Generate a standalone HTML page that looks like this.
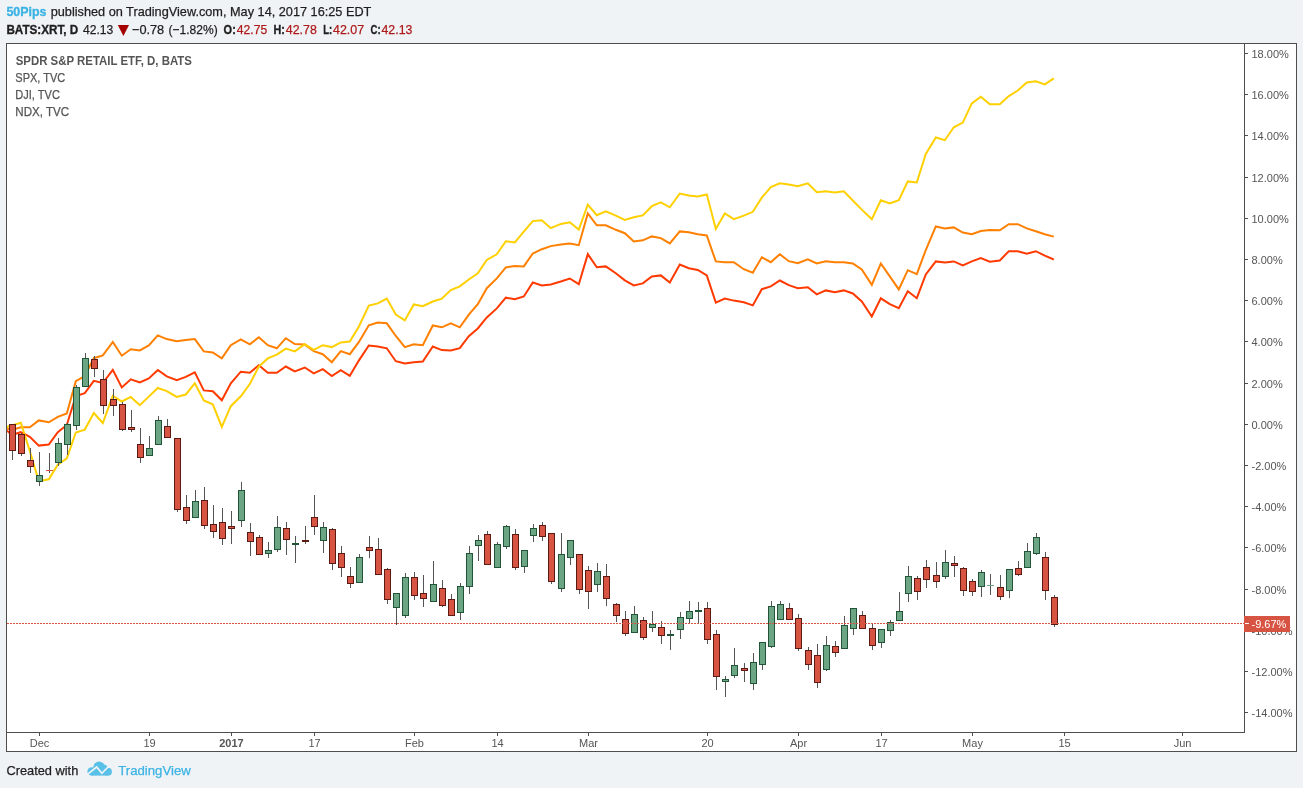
<!DOCTYPE html><html><head><meta charset="utf-8"><style>
html,body{margin:0;padding:0;width:1303px;height:788px;overflow:hidden;background:#f0f3f6;}
svg{position:absolute;left:0;top:0;display:block;will-change:transform;}
text{font-family:"Liberation Sans",sans-serif;}
</style></head><body>
<svg width="1303" height="788" viewBox="0 0 1303 788">
<rect x="6" y="43" width="1291" height="709" fill="#ffffff"/>
<defs><clipPath id="pane"><rect x="7" y="44" width="1237" height="688"/></clipPath></defs>
<g clip-path="url(#pane)">
<polyline points="2.80,427.00 11.80,430.00 20.80,427.20 29.80,427.20 38.80,420.40 48.80,422.30 57.80,416.80 66.80,413.40 75.80,381.20 84.80,376.00 93.80,358.20 102.80,355.40 112.80,341.90 121.80,355.70 130.80,349.20 139.80,350.40 148.80,345.50 157.80,335.40 166.80,339.10 176.80,341.20 185.80,340.10 194.80,339.10 203.80,351.40 212.80,352.40 221.80,358.40 230.80,345.20 240.80,339.30 249.80,344.40 258.80,337.20 267.80,345.20 276.80,348.30 285.80,338.20 294.80,344.00 304.80,344.60 313.80,351.10 322.80,354.20 331.80,362.20 340.80,351.10 349.80,354.20 358.80,342.20 368.80,325.30 377.80,322.50 386.80,323.30 395.80,336.00 404.80,347.10 413.80,344.20 422.80,345.20 432.80,325.50 441.80,327.30 450.80,323.40 459.80,327.30 468.80,314.60 477.80,304.20 486.80,288.20 496.80,278.40 505.80,267.40 514.80,266.10 523.80,266.40 532.80,253.50 541.80,249.20 550.80,246.10 560.80,244.50 569.80,243.40 578.80,245.20 587.80,213.50 596.80,225.30 605.80,225.30 615.80,229.80 624.80,233.20 633.80,241.50 642.80,240.30 651.80,236.40 660.80,238.10 669.80,243.40 679.80,231.40 688.80,232.30 697.80,234.20 706.80,235.40 715.80,261.40 724.80,262.20 733.80,262.20 743.80,269.20 752.80,272.80 761.80,257.30 770.80,262.20 779.80,254.20 788.80,261.20 797.80,263.30 807.80,259.30 816.80,263.50 825.80,261.20 834.80,262.20 843.80,262.20 852.80,263.50 861.80,269.50 871.80,284.80 880.80,263.50 889.80,276.30 898.80,289.40 907.80,270.20 916.80,274.10 925.80,250.00 935.80,226.40 944.80,228.40 953.80,227.40 962.80,232.50 971.80,234.30 980.80,231.10 989.80,230.00 999.80,230.30 1008.80,224.20 1017.80,224.20 1026.80,228.40 1035.80,231.30 1044.80,234.30 1053.80,236.60" fill="none" stroke="#ff8000" stroke-width="2" stroke-linejoin="miter" stroke-miterlimit="3"/>
<polyline points="2.80,427.00 11.80,435.00 20.80,432.20 29.80,436.80 38.80,445.60 48.80,444.50 57.80,432.20 66.80,425.00 75.80,396.00 84.80,393.20 93.80,380.90 102.80,383.00 112.80,369.80 121.80,387.40 130.80,379.30 139.80,382.40 148.80,378.50 157.80,370.00 166.80,376.40 176.80,380.10 185.80,376.90 194.80,372.30 203.80,390.40 212.80,391.30 221.80,400.30 230.80,383.40 240.80,371.70 249.80,372.70 258.80,365.30 267.80,372.70 276.80,372.70 285.80,366.50 294.80,371.40 304.80,367.50 313.80,373.30 322.80,369.20 331.80,376.00 340.80,370.20 349.80,375.80 358.80,360.60 368.80,345.50 377.80,346.50 386.80,348.30 395.80,361.20 404.80,363.40 413.80,362.20 422.80,361.50 432.80,346.50 441.80,350.10 450.80,350.50 459.80,348.20 468.80,336.20 477.80,328.50 486.80,317.40 496.80,308.40 505.80,297.70 514.80,299.30 523.80,296.50 532.80,282.50 541.80,285.50 550.80,284.40 560.80,281.50 569.80,278.50 578.80,284.20 587.80,254.10 596.80,267.20 605.80,266.40 615.80,273.30 624.80,280.40 633.80,285.40 642.80,283.40 651.80,276.40 660.80,275.40 669.80,282.50 679.80,264.50 688.80,268.20 697.80,270.00 706.80,275.50 715.80,302.60 724.80,298.50 733.80,300.60 743.80,302.30 752.80,305.40 761.80,289.20 770.80,286.40 779.80,280.50 788.80,285.20 797.80,288.20 807.80,287.30 816.80,294.30 825.80,290.40 834.80,292.20 843.80,290.40 852.80,293.50 861.80,301.50 871.80,316.50 880.80,298.30 889.80,304.20 898.80,308.10 907.80,291.20 916.80,298.20 925.80,274.50 935.80,261.40 944.80,262.40 953.80,261.40 962.80,265.30 971.80,261.40 980.80,258.00 989.80,261.70 999.80,260.50 1008.80,251.20 1017.80,251.20 1026.80,253.70 1035.80,251.20 1044.80,255.60 1053.80,259.50" fill="none" stroke="#ff3a00" stroke-width="2" stroke-linejoin="miter" stroke-miterlimit="3"/>
<polyline points="2.80,428.00 11.80,425.50 20.80,422.80 29.80,451.00 38.80,481.20 48.80,479.30 57.80,464.70 66.80,458.40 75.80,432.50 84.80,429.60 93.80,413.00 102.80,423.00 112.80,395.70 121.80,401.50 130.80,396.90 139.80,405.20 148.80,396.60 157.80,388.00 166.80,391.10 176.80,396.90 185.80,394.50 194.80,383.40 203.80,400.40 212.80,404.30 221.80,426.80 230.80,406.20 240.80,396.30 249.80,384.00 258.80,366.50 267.80,358.40 276.80,354.70 285.80,348.60 294.80,351.40 304.80,344.30 313.80,349.90 322.80,345.20 331.80,347.10 340.80,342.40 349.80,341.50 358.80,326.80 368.80,305.60 377.80,303.40 386.80,298.50 395.80,314.50 404.80,320.40 413.80,304.40 422.80,306.20 432.80,301.50 441.80,298.70 450.80,290.00 459.80,286.40 468.80,279.50 477.80,273.40 486.80,260.00 496.80,254.30 505.80,241.20 514.80,242.40 523.80,231.70 532.80,221.10 541.80,220.20 550.80,228.20 560.80,223.90 569.80,222.30 578.80,229.50 587.80,204.60 596.80,215.20 605.80,211.40 615.80,215.70 624.80,220.00 633.80,217.20 642.80,215.40 651.80,206.20 660.80,202.40 669.80,207.30 679.80,193.50 688.80,195.40 697.80,196.40 706.80,194.40 715.80,229.00 724.80,213.50 733.80,219.10 743.80,215.60 752.80,211.80 761.80,197.70 770.80,187.20 779.80,183.30 788.80,184.50 797.80,186.20 807.80,183.30 816.80,192.20 825.80,191.30 834.80,192.40 843.80,191.30 852.80,200.50 861.80,209.60 871.80,219.20 880.80,200.20 889.80,203.40 898.80,200.20 907.80,181.40 916.80,182.50 925.80,153.90 935.80,137.50 944.80,140.20 953.80,127.30 962.80,122.60 971.80,103.40 980.80,96.70 989.80,104.20 999.80,104.20 1008.80,96.10 1017.80,90.50 1026.80,82.40 1035.80,81.30 1044.80,84.40 1053.80,78.30" fill="none" stroke="#ffd000" stroke-width="2" stroke-linejoin="miter" stroke-miterlimit="3"/>
<rect x="12" y="424" width="1" height="36" fill="#555555"/>
<rect x="9" y="424" width="7" height="27" fill="#5b1a13"/>
<rect x="10" y="425" width="5" height="25" fill="#d75442"/>
<rect x="21" y="433" width="1" height="23" fill="#555555"/>
<rect x="18" y="434" width="7" height="20" fill="#5b1a13"/>
<rect x="19" y="435" width="5" height="18" fill="#d75442"/>
<rect x="30" y="448" width="1" height="25" fill="#555555"/>
<rect x="27" y="460" width="7" height="7" fill="#5b1a13"/>
<rect x="28" y="461" width="5" height="5" fill="#d75442"/>
<rect x="39" y="452" width="1" height="34" fill="#555555"/>
<rect x="36" y="475" width="7" height="7" fill="#225437"/>
<rect x="37" y="476" width="5" height="5" fill="#6ba583"/>
<rect x="49" y="453" width="1" height="20" fill="#555555"/>
<rect x="46" y="470" width="7" height="1" fill="#d75442"/>
<rect x="58" y="438" width="1" height="28" fill="#555555"/>
<rect x="55" y="443" width="7" height="20" fill="#225437"/>
<rect x="56" y="444" width="5" height="18" fill="#6ba583"/>
<rect x="67" y="423" width="1" height="32" fill="#555555"/>
<rect x="64" y="424" width="7" height="21" fill="#225437"/>
<rect x="65" y="425" width="5" height="19" fill="#6ba583"/>
<rect x="76" y="385" width="1" height="45" fill="#555555"/>
<rect x="73" y="387" width="7" height="39" fill="#225437"/>
<rect x="74" y="388" width="5" height="37" fill="#6ba583"/>
<rect x="85" y="353" width="1" height="34" fill="#555555"/>
<rect x="82" y="358" width="7" height="29" fill="#225437"/>
<rect x="83" y="359" width="5" height="27" fill="#6ba583"/>
<rect x="94" y="356" width="1" height="21" fill="#555555"/>
<rect x="91" y="359" width="7" height="10" fill="#5b1a13"/>
<rect x="92" y="360" width="5" height="8" fill="#d75442"/>
<rect x="103" y="370" width="1" height="44" fill="#555555"/>
<rect x="100" y="379" width="7" height="27" fill="#5b1a13"/>
<rect x="101" y="380" width="5" height="25" fill="#d75442"/>
<rect x="113" y="389" width="1" height="27" fill="#555555"/>
<rect x="110" y="399" width="7" height="7" fill="#5b1a13"/>
<rect x="111" y="400" width="5" height="5" fill="#d75442"/>
<rect x="122" y="402" width="1" height="29" fill="#555555"/>
<rect x="119" y="404" width="7" height="26" fill="#5b1a13"/>
<rect x="120" y="405" width="5" height="24" fill="#d75442"/>
<rect x="131" y="410" width="1" height="22" fill="#555555"/>
<rect x="128" y="427" width="7" height="3" fill="#5b1a13"/>
<rect x="129" y="428" width="5" height="1" fill="#d75442"/>
<rect x="140" y="428" width="1" height="35" fill="#555555"/>
<rect x="137" y="444" width="7" height="14" fill="#5b1a13"/>
<rect x="138" y="445" width="5" height="12" fill="#d75442"/>
<rect x="149" y="436" width="1" height="20" fill="#555555"/>
<rect x="146" y="448" width="7" height="8" fill="#225437"/>
<rect x="147" y="449" width="5" height="6" fill="#6ba583"/>
<rect x="158" y="416" width="1" height="29" fill="#555555"/>
<rect x="155" y="420" width="7" height="25" fill="#225437"/>
<rect x="156" y="421" width="5" height="23" fill="#6ba583"/>
<rect x="167" y="419" width="1" height="19" fill="#555555"/>
<rect x="164" y="426" width="7" height="12" fill="#5b1a13"/>
<rect x="165" y="427" width="5" height="10" fill="#d75442"/>
<rect x="177" y="438" width="1" height="74" fill="#555555"/>
<rect x="174" y="438" width="7" height="72" fill="#5b1a13"/>
<rect x="175" y="439" width="5" height="70" fill="#d75442"/>
<rect x="186" y="495" width="1" height="29" fill="#555555"/>
<rect x="183" y="507" width="7" height="14" fill="#5b1a13"/>
<rect x="184" y="508" width="5" height="12" fill="#d75442"/>
<rect x="195" y="490" width="1" height="28" fill="#555555"/>
<rect x="192" y="501" width="7" height="17" fill="#225437"/>
<rect x="193" y="502" width="5" height="15" fill="#6ba583"/>
<rect x="204" y="487" width="1" height="42" fill="#555555"/>
<rect x="201" y="500" width="7" height="26" fill="#5b1a13"/>
<rect x="202" y="501" width="5" height="24" fill="#d75442"/>
<rect x="213" y="505" width="1" height="33" fill="#555555"/>
<rect x="210" y="524" width="7" height="8" fill="#5b1a13"/>
<rect x="211" y="525" width="5" height="6" fill="#d75442"/>
<rect x="222" y="508" width="1" height="37" fill="#555555"/>
<rect x="219" y="522" width="7" height="17" fill="#5b1a13"/>
<rect x="220" y="523" width="5" height="15" fill="#d75442"/>
<rect x="231" y="511" width="1" height="33" fill="#555555"/>
<rect x="228" y="526" width="7" height="3" fill="#5b1a13"/>
<rect x="229" y="527" width="5" height="1" fill="#d75442"/>
<rect x="241" y="482" width="1" height="45" fill="#555555"/>
<rect x="238" y="490" width="7" height="31" fill="#225437"/>
<rect x="239" y="491" width="5" height="29" fill="#6ba583"/>
<rect x="250" y="523" width="1" height="33" fill="#555555"/>
<rect x="247" y="532" width="7" height="10" fill="#5b1a13"/>
<rect x="248" y="533" width="5" height="8" fill="#d75442"/>
<rect x="259" y="535" width="1" height="20" fill="#555555"/>
<rect x="256" y="537" width="7" height="18" fill="#5b1a13"/>
<rect x="257" y="538" width="5" height="16" fill="#d75442"/>
<rect x="268" y="542" width="1" height="16" fill="#555555"/>
<rect x="265" y="550" width="7" height="4" fill="#225437"/>
<rect x="266" y="551" width="5" height="2" fill="#6ba583"/>
<rect x="277" y="516" width="1" height="36" fill="#555555"/>
<rect x="274" y="527" width="7" height="23" fill="#225437"/>
<rect x="275" y="528" width="5" height="21" fill="#6ba583"/>
<rect x="286" y="522" width="1" height="33" fill="#555555"/>
<rect x="283" y="528" width="7" height="12" fill="#5b1a13"/>
<rect x="284" y="529" width="5" height="10" fill="#d75442"/>
<rect x="295" y="536" width="1" height="27" fill="#555555"/>
<rect x="292" y="543" width="7" height="2" fill="#225437"/>
<rect x="305" y="526" width="1" height="18" fill="#555555"/>
<rect x="302" y="540" width="7" height="2" fill="#5b1a13"/>
<rect x="314" y="495" width="1" height="40" fill="#555555"/>
<rect x="311" y="517" width="7" height="10" fill="#5b1a13"/>
<rect x="312" y="518" width="5" height="8" fill="#d75442"/>
<rect x="323" y="522" width="1" height="31" fill="#555555"/>
<rect x="320" y="527" width="7" height="14" fill="#225437"/>
<rect x="321" y="528" width="5" height="12" fill="#6ba583"/>
<rect x="332" y="528" width="1" height="42" fill="#555555"/>
<rect x="329" y="529" width="7" height="35" fill="#5b1a13"/>
<rect x="330" y="530" width="5" height="33" fill="#d75442"/>
<rect x="341" y="546" width="1" height="31" fill="#555555"/>
<rect x="338" y="553" width="7" height="15" fill="#5b1a13"/>
<rect x="339" y="554" width="5" height="13" fill="#d75442"/>
<rect x="350" y="567" width="1" height="21" fill="#555555"/>
<rect x="347" y="576" width="7" height="8" fill="#5b1a13"/>
<rect x="348" y="577" width="5" height="6" fill="#d75442"/>
<rect x="359" y="554" width="1" height="29" fill="#555555"/>
<rect x="356" y="557" width="7" height="26" fill="#225437"/>
<rect x="357" y="558" width="5" height="24" fill="#6ba583"/>
<rect x="369" y="536" width="1" height="22" fill="#555555"/>
<rect x="366" y="547" width="7" height="4" fill="#5b1a13"/>
<rect x="367" y="548" width="5" height="2" fill="#d75442"/>
<rect x="378" y="538" width="1" height="37" fill="#555555"/>
<rect x="375" y="549" width="7" height="26" fill="#5b1a13"/>
<rect x="376" y="550" width="5" height="24" fill="#d75442"/>
<rect x="387" y="568" width="1" height="36" fill="#555555"/>
<rect x="384" y="569" width="7" height="31" fill="#5b1a13"/>
<rect x="385" y="570" width="5" height="29" fill="#d75442"/>
<rect x="396" y="593" width="1" height="32" fill="#555555"/>
<rect x="393" y="593" width="7" height="15" fill="#225437"/>
<rect x="394" y="594" width="5" height="13" fill="#6ba583"/>
<rect x="405" y="573" width="1" height="45" fill="#555555"/>
<rect x="402" y="577" width="7" height="39" fill="#225437"/>
<rect x="403" y="578" width="5" height="37" fill="#6ba583"/>
<rect x="414" y="572" width="1" height="28" fill="#555555"/>
<rect x="411" y="577" width="7" height="19" fill="#5b1a13"/>
<rect x="412" y="578" width="5" height="17" fill="#d75442"/>
<rect x="423" y="575" width="1" height="32" fill="#555555"/>
<rect x="420" y="593" width="7" height="6" fill="#5b1a13"/>
<rect x="421" y="594" width="5" height="4" fill="#d75442"/>
<rect x="433" y="561" width="1" height="41" fill="#555555"/>
<rect x="430" y="584" width="7" height="18" fill="#225437"/>
<rect x="431" y="585" width="5" height="16" fill="#6ba583"/>
<rect x="442" y="580" width="1" height="27" fill="#555555"/>
<rect x="439" y="588" width="7" height="18" fill="#5b1a13"/>
<rect x="440" y="589" width="5" height="16" fill="#d75442"/>
<rect x="451" y="594" width="1" height="22" fill="#555555"/>
<rect x="448" y="599" width="7" height="17" fill="#5b1a13"/>
<rect x="449" y="600" width="5" height="15" fill="#d75442"/>
<rect x="460" y="583" width="1" height="37" fill="#555555"/>
<rect x="457" y="586" width="7" height="27" fill="#225437"/>
<rect x="458" y="587" width="5" height="25" fill="#6ba583"/>
<rect x="469" y="546" width="1" height="48" fill="#555555"/>
<rect x="466" y="553" width="7" height="34" fill="#225437"/>
<rect x="467" y="554" width="5" height="32" fill="#6ba583"/>
<rect x="478" y="535" width="1" height="26" fill="#555555"/>
<rect x="475" y="540" width="7" height="6" fill="#225437"/>
<rect x="476" y="541" width="5" height="4" fill="#6ba583"/>
<rect x="487" y="531" width="1" height="34" fill="#555555"/>
<rect x="484" y="534" width="7" height="31" fill="#5b1a13"/>
<rect x="485" y="535" width="5" height="29" fill="#d75442"/>
<rect x="497" y="542" width="1" height="26" fill="#555555"/>
<rect x="494" y="544" width="7" height="24" fill="#225437"/>
<rect x="495" y="545" width="5" height="22" fill="#6ba583"/>
<rect x="506" y="525" width="1" height="24" fill="#555555"/>
<rect x="503" y="526" width="7" height="21" fill="#225437"/>
<rect x="504" y="527" width="5" height="19" fill="#6ba583"/>
<rect x="515" y="529" width="1" height="41" fill="#555555"/>
<rect x="512" y="534" width="7" height="34" fill="#5b1a13"/>
<rect x="513" y="535" width="5" height="32" fill="#d75442"/>
<rect x="524" y="550" width="1" height="23" fill="#555555"/>
<rect x="521" y="550" width="7" height="17" fill="#225437"/>
<rect x="522" y="551" width="5" height="15" fill="#6ba583"/>
<rect x="533" y="524" width="1" height="18" fill="#555555"/>
<rect x="530" y="528" width="7" height="8" fill="#225437"/>
<rect x="531" y="529" width="5" height="6" fill="#6ba583"/>
<rect x="542" y="522" width="1" height="19" fill="#555555"/>
<rect x="539" y="525" width="7" height="12" fill="#5b1a13"/>
<rect x="540" y="526" width="5" height="10" fill="#d75442"/>
<rect x="551" y="533" width="1" height="51" fill="#555555"/>
<rect x="548" y="533" width="7" height="49" fill="#5b1a13"/>
<rect x="549" y="534" width="5" height="47" fill="#d75442"/>
<rect x="561" y="533" width="1" height="59" fill="#555555"/>
<rect x="558" y="554" width="7" height="35" fill="#225437"/>
<rect x="559" y="555" width="5" height="33" fill="#6ba583"/>
<rect x="570" y="540" width="1" height="25" fill="#555555"/>
<rect x="567" y="540" width="7" height="18" fill="#225437"/>
<rect x="568" y="541" width="5" height="16" fill="#6ba583"/>
<rect x="579" y="554" width="1" height="40" fill="#555555"/>
<rect x="576" y="554" width="7" height="36" fill="#5b1a13"/>
<rect x="577" y="555" width="5" height="34" fill="#d75442"/>
<rect x="588" y="566" width="1" height="43" fill="#555555"/>
<rect x="585" y="570" width="7" height="22" fill="#5b1a13"/>
<rect x="586" y="571" width="5" height="20" fill="#d75442"/>
<rect x="597" y="563" width="1" height="29" fill="#555555"/>
<rect x="594" y="571" width="7" height="14" fill="#225437"/>
<rect x="595" y="572" width="5" height="12" fill="#6ba583"/>
<rect x="606" y="564" width="1" height="42" fill="#555555"/>
<rect x="603" y="576" width="7" height="23" fill="#5b1a13"/>
<rect x="604" y="577" width="5" height="21" fill="#d75442"/>
<rect x="616" y="603" width="1" height="19" fill="#555555"/>
<rect x="613" y="604" width="7" height="12" fill="#5b1a13"/>
<rect x="614" y="605" width="5" height="10" fill="#d75442"/>
<rect x="625" y="611" width="1" height="25" fill="#555555"/>
<rect x="622" y="619" width="7" height="15" fill="#5b1a13"/>
<rect x="623" y="620" width="5" height="13" fill="#d75442"/>
<rect x="634" y="606" width="1" height="27" fill="#555555"/>
<rect x="631" y="614" width="7" height="19" fill="#225437"/>
<rect x="632" y="615" width="5" height="17" fill="#6ba583"/>
<rect x="643" y="617" width="1" height="23" fill="#555555"/>
<rect x="640" y="620" width="7" height="18" fill="#5b1a13"/>
<rect x="641" y="621" width="5" height="16" fill="#d75442"/>
<rect x="652" y="611" width="1" height="21" fill="#555555"/>
<rect x="649" y="624" width="7" height="4" fill="#225437"/>
<rect x="650" y="625" width="5" height="2" fill="#6ba583"/>
<rect x="661" y="621" width="1" height="23" fill="#555555"/>
<rect x="658" y="627" width="7" height="9" fill="#5b1a13"/>
<rect x="659" y="628" width="5" height="7" fill="#d75442"/>
<rect x="670" y="630" width="1" height="20" fill="#555555"/>
<rect x="667" y="634" width="7" height="2" fill="#225437"/>
<rect x="680" y="612" width="1" height="27" fill="#555555"/>
<rect x="677" y="617" width="7" height="13" fill="#225437"/>
<rect x="678" y="618" width="5" height="11" fill="#6ba583"/>
<rect x="689" y="601" width="1" height="23" fill="#555555"/>
<rect x="686" y="611" width="7" height="8" fill="#225437"/>
<rect x="687" y="612" width="5" height="6" fill="#6ba583"/>
<rect x="698" y="602" width="1" height="22" fill="#555555"/>
<rect x="695" y="610" width="7" height="2" fill="#225437"/>
<rect x="707" y="602" width="1" height="42" fill="#555555"/>
<rect x="704" y="608" width="7" height="32" fill="#5b1a13"/>
<rect x="705" y="609" width="5" height="30" fill="#d75442"/>
<rect x="716" y="630" width="1" height="60" fill="#555555"/>
<rect x="713" y="634" width="7" height="43" fill="#5b1a13"/>
<rect x="714" y="635" width="5" height="41" fill="#d75442"/>
<rect x="725" y="676" width="1" height="21" fill="#555555"/>
<rect x="722" y="679" width="7" height="3" fill="#225437"/>
<rect x="723" y="680" width="5" height="1" fill="#6ba583"/>
<rect x="734" y="648" width="1" height="30" fill="#555555"/>
<rect x="731" y="665" width="7" height="11" fill="#225437"/>
<rect x="732" y="666" width="5" height="9" fill="#6ba583"/>
<rect x="744" y="663" width="1" height="19" fill="#555555"/>
<rect x="741" y="668" width="7" height="3" fill="#5b1a13"/>
<rect x="742" y="669" width="5" height="1" fill="#d75442"/>
<rect x="753" y="653" width="1" height="37" fill="#555555"/>
<rect x="750" y="662" width="7" height="22" fill="#225437"/>
<rect x="751" y="663" width="5" height="20" fill="#6ba583"/>
<rect x="762" y="642" width="1" height="28" fill="#555555"/>
<rect x="759" y="642" width="7" height="23" fill="#225437"/>
<rect x="760" y="643" width="5" height="21" fill="#6ba583"/>
<rect x="771" y="601" width="1" height="47" fill="#555555"/>
<rect x="768" y="606" width="7" height="41" fill="#225437"/>
<rect x="769" y="607" width="5" height="39" fill="#6ba583"/>
<rect x="780" y="601" width="1" height="19" fill="#555555"/>
<rect x="777" y="604" width="7" height="16" fill="#225437"/>
<rect x="778" y="605" width="5" height="14" fill="#6ba583"/>
<rect x="789" y="603" width="1" height="17" fill="#555555"/>
<rect x="786" y="608" width="7" height="12" fill="#5b1a13"/>
<rect x="787" y="609" width="5" height="10" fill="#d75442"/>
<rect x="798" y="614" width="1" height="37" fill="#555555"/>
<rect x="795" y="618" width="7" height="31" fill="#5b1a13"/>
<rect x="796" y="619" width="5" height="29" fill="#d75442"/>
<rect x="808" y="647" width="1" height="23" fill="#555555"/>
<rect x="805" y="650" width="7" height="15" fill="#5b1a13"/>
<rect x="806" y="651" width="5" height="13" fill="#d75442"/>
<rect x="817" y="644" width="1" height="44" fill="#555555"/>
<rect x="814" y="655" width="7" height="28" fill="#5b1a13"/>
<rect x="815" y="656" width="5" height="26" fill="#d75442"/>
<rect x="826" y="636" width="1" height="35" fill="#555555"/>
<rect x="823" y="645" width="7" height="25" fill="#225437"/>
<rect x="824" y="646" width="5" height="23" fill="#6ba583"/>
<rect x="835" y="641" width="1" height="16" fill="#555555"/>
<rect x="832" y="646" width="7" height="7" fill="#5b1a13"/>
<rect x="833" y="647" width="5" height="5" fill="#d75442"/>
<rect x="844" y="616" width="1" height="33" fill="#555555"/>
<rect x="841" y="625" width="7" height="24" fill="#225437"/>
<rect x="842" y="626" width="5" height="22" fill="#6ba583"/>
<rect x="853" y="608" width="1" height="27" fill="#555555"/>
<rect x="850" y="608" width="7" height="21" fill="#225437"/>
<rect x="851" y="609" width="5" height="19" fill="#6ba583"/>
<rect x="862" y="611" width="1" height="18" fill="#555555"/>
<rect x="859" y="615" width="7" height="14" fill="#5b1a13"/>
<rect x="860" y="616" width="5" height="12" fill="#d75442"/>
<rect x="872" y="624" width="1" height="26" fill="#555555"/>
<rect x="869" y="628" width="7" height="18" fill="#5b1a13"/>
<rect x="870" y="629" width="5" height="16" fill="#d75442"/>
<rect x="881" y="629" width="1" height="19" fill="#555555"/>
<rect x="878" y="629" width="7" height="14" fill="#225437"/>
<rect x="879" y="630" width="5" height="12" fill="#6ba583"/>
<rect x="890" y="620" width="1" height="16" fill="#555555"/>
<rect x="887" y="622" width="7" height="9" fill="#225437"/>
<rect x="888" y="623" width="5" height="7" fill="#6ba583"/>
<rect x="899" y="592" width="1" height="29" fill="#555555"/>
<rect x="896" y="611" width="7" height="10" fill="#225437"/>
<rect x="897" y="612" width="5" height="8" fill="#6ba583"/>
<rect x="908" y="566" width="1" height="36" fill="#555555"/>
<rect x="905" y="576" width="7" height="18" fill="#225437"/>
<rect x="906" y="577" width="5" height="16" fill="#6ba583"/>
<rect x="917" y="576" width="1" height="24" fill="#555555"/>
<rect x="914" y="578" width="7" height="14" fill="#5b1a13"/>
<rect x="915" y="579" width="5" height="12" fill="#d75442"/>
<rect x="926" y="560" width="1" height="28" fill="#555555"/>
<rect x="923" y="567" width="7" height="13" fill="#5b1a13"/>
<rect x="924" y="568" width="5" height="11" fill="#d75442"/>
<rect x="936" y="562" width="1" height="26" fill="#555555"/>
<rect x="933" y="575" width="7" height="7" fill="#5b1a13"/>
<rect x="934" y="576" width="5" height="5" fill="#d75442"/>
<rect x="945" y="550" width="1" height="29" fill="#555555"/>
<rect x="942" y="562" width="7" height="15" fill="#225437"/>
<rect x="943" y="563" width="5" height="13" fill="#6ba583"/>
<rect x="954" y="556" width="1" height="21" fill="#555555"/>
<rect x="951" y="563" width="7" height="3" fill="#5b1a13"/>
<rect x="952" y="564" width="5" height="1" fill="#d75442"/>
<rect x="963" y="567" width="1" height="29" fill="#555555"/>
<rect x="960" y="568" width="7" height="23" fill="#5b1a13"/>
<rect x="961" y="569" width="5" height="21" fill="#d75442"/>
<rect x="972" y="579" width="1" height="17" fill="#555555"/>
<rect x="969" y="581" width="7" height="11" fill="#5b1a13"/>
<rect x="970" y="582" width="5" height="9" fill="#d75442"/>
<rect x="981" y="570" width="1" height="27" fill="#555555"/>
<rect x="978" y="572" width="7" height="15" fill="#225437"/>
<rect x="979" y="573" width="5" height="13" fill="#6ba583"/>
<rect x="990" y="574" width="1" height="21" fill="#555555"/>
<rect x="987" y="585" width="7" height="1" fill="#6ba583"/>
<rect x="1000" y="575" width="1" height="25" fill="#555555"/>
<rect x="997" y="587" width="7" height="10" fill="#5b1a13"/>
<rect x="998" y="588" width="5" height="8" fill="#d75442"/>
<rect x="1009" y="569" width="1" height="29" fill="#555555"/>
<rect x="1006" y="569" width="7" height="22" fill="#225437"/>
<rect x="1007" y="570" width="5" height="20" fill="#6ba583"/>
<rect x="1018" y="561" width="1" height="15" fill="#555555"/>
<rect x="1015" y="568" width="7" height="7" fill="#5b1a13"/>
<rect x="1016" y="569" width="5" height="5" fill="#d75442"/>
<rect x="1027" y="543" width="1" height="25" fill="#555555"/>
<rect x="1024" y="551" width="7" height="17" fill="#225437"/>
<rect x="1025" y="552" width="5" height="15" fill="#6ba583"/>
<rect x="1036" y="533" width="1" height="22" fill="#555555"/>
<rect x="1033" y="537" width="7" height="17" fill="#225437"/>
<rect x="1034" y="538" width="5" height="15" fill="#6ba583"/>
<rect x="1045" y="552" width="1" height="48" fill="#555555"/>
<rect x="1042" y="557" width="7" height="34" fill="#5b1a13"/>
<rect x="1043" y="558" width="5" height="32" fill="#d75442"/>
<rect x="1054" y="595" width="1" height="32" fill="#555555"/>
<rect x="1051" y="597" width="7" height="28" fill="#5b1a13"/>
<rect x="1052" y="598" width="5" height="26" fill="#d75442"/>
</g>
<line x1="7" y1="623.5" x2="1244" y2="623.5" stroke="#d75442" stroke-width="1" stroke-dasharray="2,1"/>
<g fill="#4e4e4e">
<rect x="6" y="43" width="1291" height="1"/>
<rect x="6" y="751" width="1291" height="1"/>
<rect x="6" y="43" width="1" height="709"/>
<rect x="1296" y="43" width="1" height="709"/>
<rect x="1244" y="43" width="1" height="690"/>
<rect x="6" y="732" width="1239" height="1"/>
<rect x="1245" y="53" width="3" height="1"/>
<rect x="1245" y="94" width="3" height="1"/>
<rect x="1245" y="135" width="3" height="1"/>
<rect x="1245" y="177" width="3" height="1"/>
<rect x="1245" y="218" width="3" height="1"/>
<rect x="1245" y="259" width="3" height="1"/>
<rect x="1245" y="300" width="3" height="1"/>
<rect x="1245" y="341" width="3" height="1"/>
<rect x="1245" y="383" width="3" height="1"/>
<rect x="1245" y="424" width="3" height="1"/>
<rect x="1245" y="465" width="3" height="1"/>
<rect x="1245" y="506" width="3" height="1"/>
<rect x="1245" y="547" width="3" height="1"/>
<rect x="1245" y="589" width="3" height="1"/>
<rect x="1245" y="630" width="3" height="1"/>
<rect x="1245" y="671" width="3" height="1"/>
<rect x="1245" y="712" width="3" height="1"/>
<rect x="39" y="733" width="1" height="3"/>
<rect x="149" y="733" width="1" height="3"/>
<rect x="231" y="733" width="1" height="3"/>
<rect x="314" y="733" width="1" height="3"/>
<rect x="414" y="733" width="1" height="3"/>
<rect x="497" y="733" width="1" height="3"/>
<rect x="588" y="733" width="1" height="3"/>
<rect x="707" y="733" width="1" height="3"/>
<rect x="798" y="733" width="1" height="3"/>
<rect x="881" y="733" width="1" height="3"/>
<rect x="972" y="733" width="1" height="3"/>
<rect x="1064" y="733" width="1" height="3"/>
<rect x="1182" y="733" width="1" height="3"/>
</g>
<g fill="#555555" font-size="11">
<text x="1251.5" y="58">18.00%</text>
<text x="1251.5" y="99">16.00%</text>
<text x="1251.5" y="140">14.00%</text>
<text x="1251.5" y="182">12.00%</text>
<text x="1251.5" y="223">10.00%</text>
<text x="1251.5" y="264">8.00%</text>
<text x="1251.5" y="305">6.00%</text>
<text x="1251.5" y="346">4.00%</text>
<text x="1251.5" y="388">2.00%</text>
<text x="1251.5" y="429">0.00%</text>
<text x="1251.5" y="470">-2.00%</text>
<text x="1251.5" y="511">-4.00%</text>
<text x="1251.5" y="552">-6.00%</text>
<text x="1251.5" y="594">-8.00%</text>
<text x="1251.5" y="635">-10.00%</text>
<text x="1251.5" y="676">-12.00%</text>
<text x="1251.5" y="717">-14.00%</text>
</g>
<rect x="1244" y="616" width="46" height="16" fill="#d75442"/>
<rect x="1245" y="623" width="4" height="1" fill="#ffffff"/>
<text x="1251.5" y="627.5" font-size="11" fill="#ffffff">-9.67%</text>
<g fill="#555555" font-size="11" text-anchor="middle">
<text x="39.5" y="747">Dec</text>
<text x="149.5" y="747">19</text>
<text x="231.5" y="747" font-weight="bold">2017</text>
<text x="314.5" y="747">17</text>
<text x="414.5" y="747">Feb</text>
<text x="497.5" y="747">14</text>
<text x="588.5" y="747">Mar</text>
<text x="707.5" y="747">20</text>
<text x="798.5" y="747">Apr</text>
<text x="881.5" y="747">17</text>
<text x="972.5" y="747">May</text>
<text x="1064.5" y="747">15</text>
<text x="1182.5" y="747">Jun</text>
</g>
<text x="15.7" y="65.0" font-size="12.8" fill="#555555" stroke="#555555" stroke-width="0" font-weight="bold" textLength="176.2" lengthAdjust="spacingAndGlyphs">SPDR S&amp;P RETAIL ETF, D, BATS</text>
<text x="15.3" y="81.8" font-size="13" fill="#555555" stroke="#555555" stroke-width="0.25" textLength="49.9" lengthAdjust="spacingAndGlyphs">SPX, TVC</text>
<text x="15.3" y="98.6" font-size="13" fill="#555555" stroke="#555555" stroke-width="0.25" textLength="44.6" lengthAdjust="spacingAndGlyphs">DJI, TVC</text>
<text x="15.3" y="115.5" font-size="13" fill="#555555" stroke="#555555" stroke-width="0.25" textLength="53.8" lengthAdjust="spacingAndGlyphs">NDX, TVC</text>
<text x="6.4" y="15.8" font-size="12.8" fill="#3bb3e4" stroke="#3bb3e4" stroke-width="0.35" font-weight="bold" textLength="40.0" lengthAdjust="spacingAndGlyphs">50Pips</text>
<text x="50.7" y="15.8" font-size="13" fill="#1e1e1e" stroke="#1e1e1e" stroke-width="0.25" textLength="320.7" lengthAdjust="spacingAndGlyphs">published on TradingView.com, May 14, 2017 16:25 EDT</text>
<text x="6.4" y="34.1" font-size="12.8" fill="#1e1e1e" stroke="#1e1e1e" stroke-width="0.35" font-weight="bold" textLength="71.9" lengthAdjust="spacingAndGlyphs">BATS:XRT, D</text>
<text x="82.9" y="34.1" font-size="13" fill="#1e1e1e" stroke="#1e1e1e" stroke-width="0.25" textLength="30.4" lengthAdjust="spacingAndGlyphs">42.13</text>
<path d="M117.8,25 L129,25 L123.4,36 Z" fill="#a50000"/>
<text x="132.0" y="34.1" font-size="13" fill="#1e1e1e" stroke="#1e1e1e" stroke-width="0.25" textLength="32.2" lengthAdjust="spacingAndGlyphs">−0.78</text>
<text x="168.5" y="34.1" font-size="13" fill="#1e1e1e" stroke="#1e1e1e" stroke-width="0.25" textLength="49.2" lengthAdjust="spacingAndGlyphs">(−1.82%)</text>
<text x="223.6" y="34.1" font-size="12.8" fill="#1e1e1e" stroke="#1e1e1e" stroke-width="0.35" font-weight="bold" textLength="12.2" lengthAdjust="spacingAndGlyphs">O:</text>
<text x="236.8" y="34.1" font-size="13" fill="#ad1a1a" stroke="#ad1a1a" stroke-width="0.25" textLength="30.4" lengthAdjust="spacingAndGlyphs">42.75</text>
<text x="273.4" y="34.1" font-size="12.8" fill="#1e1e1e" stroke="#1e1e1e" stroke-width="0.35" font-weight="bold" textLength="11.4" lengthAdjust="spacingAndGlyphs">H:</text>
<text x="285.8" y="34.1" font-size="13" fill="#ad1a1a" stroke="#ad1a1a" stroke-width="0.25" textLength="31.0" lengthAdjust="spacingAndGlyphs">42.78</text>
<text x="323.2" y="34.1" font-size="12.8" fill="#1e1e1e" stroke="#1e1e1e" stroke-width="0.35" font-weight="bold" textLength="9.0" lengthAdjust="spacingAndGlyphs">L:</text>
<text x="333.0" y="34.1" font-size="13" fill="#ad1a1a" stroke="#ad1a1a" stroke-width="0.25" textLength="31.1" lengthAdjust="spacingAndGlyphs">42.07</text>
<text x="370.5" y="34.1" font-size="12.8" fill="#1e1e1e" stroke="#1e1e1e" stroke-width="0.35" font-weight="bold" textLength="10.1" lengthAdjust="spacingAndGlyphs">C:</text>
<text x="381.5" y="34.1" font-size="13" fill="#ad1a1a" stroke="#ad1a1a" stroke-width="0.25" textLength="30.9" lengthAdjust="spacingAndGlyphs">42.13</text>
<text x="6.4" y="775.0" font-size="13" fill="#1e1e1e" stroke="#1e1e1e" stroke-width="0.25" textLength="71.9" lengthAdjust="spacingAndGlyphs">Created with</text>
<text x="118.2" y="775.0" font-size="13" fill="#3bb3e4" stroke="#3bb3e4" stroke-width="0.25" textLength="72.6" lengthAdjust="spacingAndGlyphs">TradingView</text>
<g transform="translate(84,758)" fill="#59c0e8">
<circle cx="7.6" cy="13.4" r="4.2"/><circle cx="15.1" cy="9.4" r="5.8"/><circle cx="19.5" cy="11" r="4.6"/><circle cx="24" cy="13.7" r="3.9"/><rect x="7" y="11" width="17" height="6.6"/>
<polyline points="3.5,16.3 12.6,9.0 17.9,15.3 26,7" fill="none" stroke="#f0f3f6" stroke-width="1.7" stroke-linejoin="miter"/>
</g>
</svg></body></html>
